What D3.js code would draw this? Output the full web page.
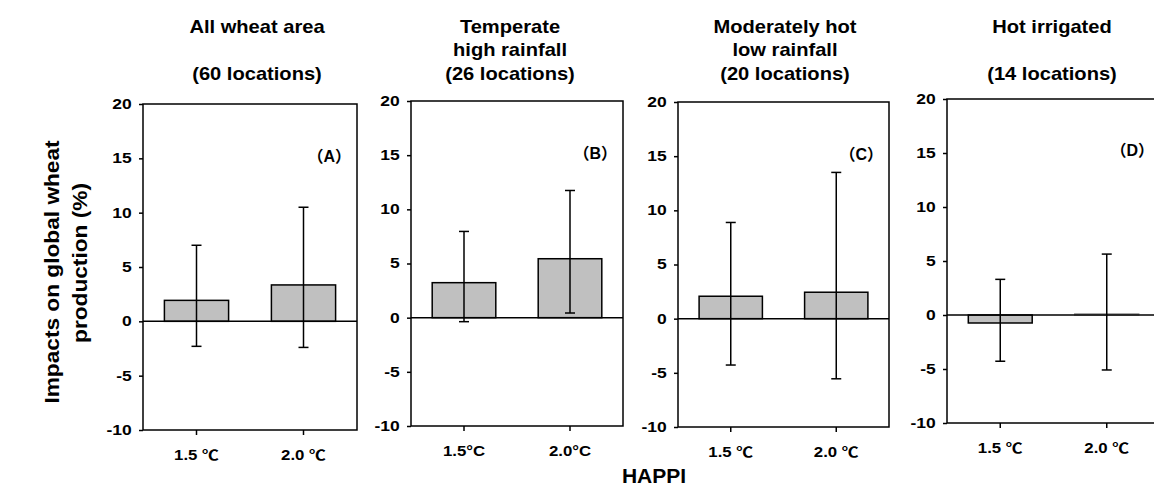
<!DOCTYPE html>
<html>
<head>
<meta charset="utf-8">
<script src="https://cdn.jsdelivr.net/npm/d3@7"></script>
<style>
  body { margin: 0; background: #fff; }
  text { font-family: "Liberation Sans", Arial, "Noto Sans CJK SC", sans-serif; font-weight: bold; fill: #000; }
</style>
</head>
<body>
<div id="chart"></div>
<script>

// ======================= //
// DATA
// ======================= //

var panelTags = ["（A）", "（B）", "（C）", "（D）"]
var panelTitles = [
  ["All wheat area", "", "(60 locations)"],
  ["Temperate", "high rainfall", "(26 locations)"],
  ["Moderately hot", "low rainfall", "(20 locations)"],
  ["Hot irrigated", "", "(14 locations)"]
]
var scenarioLabels = [
  ["1.5 ℃", "2.0 ℃"],
  ["1.5°C", "2.0°C"],
  ["1.5 ℃", "2.0 ℃"],
  ["1.5 ℃", "2.0 ℃"]
]
// mean impact (%) per panel: [1.5, 2.0]
var meanValues  = [[1.93, 3.35], [3.23, 5.44], [2.07, 2.44], [-0.74, 0.1]]
var upperValues = [[7.0, 10.5], [7.96, 11.74], [8.88, 13.5], [3.3, 5.64]]
var lowerValues = [[-2.3, -2.4], [-0.37, 0.43], [-4.28, -5.55], [-4.28, -5.09]]
var yTicks = [-10, -5, 0, 5, 10, 15, 20]

// ======================= //
// LAYOUT
// ======================= //

var W = 1154, H = 489
var panelLeft   = [143, 411, 678, 947]
var panelWidth  = [214, 212, 211, 213]
var panelTop    = [104, 101, 102, 99]
var panelBottom = [430, 426, 427, 423]
var titleX = [257, 510, 785, 1052]
var titleY = [27, 50, 74]
var stretch = 1.25

var svg = d3.select("#chart")
  .append("svg")
    .attr("width", W)
    .attr("height", H)

panelTags.forEach(function(tag, p){

  var w = panelWidth[p], h = panelBottom[p] - panelTop[p]

  var g = svg.append("g")
    .attr("transform", "translate(" + panelLeft[p] + "," + panelTop[p] + ")")

  var y = d3.scaleLinear().domain([-10, 20]).range([h, 0])
  var x = d3.scaleBand().domain([0, 1]).range([0, w])
  var barW = x.bandwidth() * 0.6

  // Y axis (plain hyphen for negatives, as in the original)
  var ya = g.append("g")
    .call(d3.axisLeft(y).tickValues(yTicks).tickSize(4).tickFormat(function(d){ return String(d) }))
  ya.select(".domain").remove()
  ya.selectAll("line").attr("stroke-width", 1.5)
  ya.selectAll("text")
    .attr("x", -9)
    .attr("transform", "scale(" + stretch + ",1)")
    .style("font-size", "14px")

  // X axis
  var xa = g.append("g")
    .attr("transform", "translate(0," + h + ")")
    .call(d3.axisBottom(x).tickSize(5).tickPadding(15).tickFormat(function(d){ return scenarioLabels[p][d] }))
  xa.select(".domain").remove()
  xa.selectAll("line").attr("stroke-width", 1.5)
  xa.selectAll("text")
    .attr("transform", "scale(1.2,1)")
    .style("font-size", "14px")

  // Bars
  g.selectAll("myBar")
    .data(meanValues[p])
    .enter()
    .append("rect")
      .attr("x", function(d, i){ return x(i) + (x.bandwidth() - barW) / 2 })
      .attr("width", barW)
      .attr("y", function(d){ return y(Math.max(0, d)) })
      .attr("height", function(d){ return Math.abs(y(d) - y(0)) })
      .attr("fill", "#c0c0c0")
      .attr("stroke", function(d){ return Math.abs(y(d) - y(0)) < 2 ? "#999" : "#000" })
      .attr("stroke-width", 1.5)

  // Zero line
  g.append("line")
    .attr("x1", 0).attr("x2", w)
    .attr("y1", y(0)).attr("y2", y(0))
    .attr("stroke", "#000").attr("stroke-width", 1.5)

  // Error bars
  var cx = function(i){ return x(i) + x.bandwidth() / 2 }
  meanValues[p].forEach(function(d, i){
    g.append("line")
      .attr("x1", cx(i)).attr("x2", cx(i))
      .attr("y1", y(upperValues[p][i])).attr("y2", y(lowerValues[p][i]))
      .attr("stroke", "#000").attr("stroke-width", 1.5)
    ;[upperValues[p][i], lowerValues[p][i]].forEach(function(v){
      g.append("line")
        .attr("x1", cx(i) - 5).attr("x2", cx(i) + 5)
        .attr("y1", y(v)).attr("y2", y(v))
        .attr("stroke", "#000").attr("stroke-width", 1.5)
    })
  })

  // Frame
  g.append("rect")
    .attr("width", w).attr("height", h)
    .attr("fill", "none")
    .attr("stroke", "#000").attr("stroke-width", 1.5)

  // Panel tag
  g.append("text")
    .attr("x", w - 6)
    .attr("y", y(15.2))
    .attr("text-anchor", "end")
    .attr("dominant-baseline", "central")
    .style("font-size", "16px")
    .text(tag)

  // Title
  panelTitles[p].forEach(function(line, k){
    svg.append("g")
      .attr("transform", "translate(" + titleX[p] + "," + titleY[k] + ")")
      .append("text")
        .attr("text-anchor", "middle")
        .attr("dominant-baseline", "central")
        .attr("transform", "scale(1.15,1)")
        .style("font-size", "17.5px")
        .text(line)
  })
})

// ======================= //
// AXIS TITLES
// ======================= //

var yTitle = [["Impacts on global wheat", 52, 272], ["production (%)", 80, 263]]
yTitle.forEach(function(t){
  svg.append("g")
    .attr("transform", "translate(" + t[1] + "," + t[2] + ") rotate(-90)")
    .append("text")
      .attr("text-anchor", "middle")
      .attr("dominant-baseline", "central")
      .attr("transform", "scale(1.08,1)")
      .style("font-size", "21px")
      .text(t[0])
})

svg.append("text")
  .attr("x", 654)
  .attr("y", 475)
  .attr("text-anchor", "middle")
  .attr("dominant-baseline", "central")
  .style("font-size", "21px")
  .text("HAPPI")

</script>
</body>
</html>
